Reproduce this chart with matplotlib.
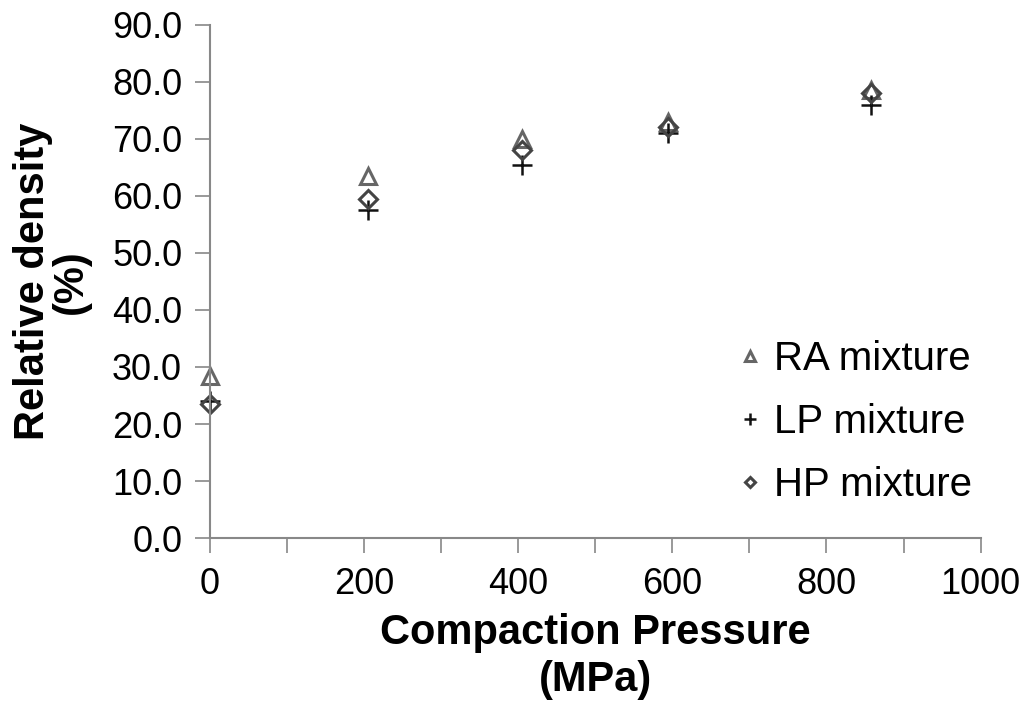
import matplotlib
matplotlib.use("Agg")
import matplotlib.pyplot as plt

plt.rcParams['font.family'] = ['Liberation Sans', 'DejaVu Sans']

pressure = [0, 205, 405, 595, 858]
ra = [28.5, 63.5, 70.0, 73.0, 78.5]
lp = [24.0, 57.5, 65.5, 71.0, 76.0]
hp = [23.5, 59.5, 68.0, 72.0, 78.0]
series_labels = ["RA mixture", "LP mixture", "HP mixture"]
x_ticks = [0, 200, 400, 600, 800, 1000]
y_ticks = [0, 10, 20, 30, 40, 50, 60, 70, 80, 90]

fig = plt.figure(figsize=(10.29, 7.08), dpi=100)
ax = fig.add_axes([0.204, 0.240, 0.749, 0.725])

ax.plot(pressure, ra, linestyle='none', marker='^', markersize=11, markerfacecolor='none',
        markeredgecolor='#666666', markeredgewidth=2.2, label=series_labels[0], clip_on=False)
ax.plot(pressure, lp, linestyle='none', marker='+', markersize=15, color='#111111',
        markeredgewidth=1.8, label=series_labels[1], clip_on=False)
ax.plot(pressure, hp, linestyle='none', marker='D', markersize=9, markerfacecolor='none',
        markeredgecolor='#444444', markeredgewidth=2.2, label=series_labels[2], clip_on=False)

ax.set_xlim(0, 1000)
ax.set_ylim(0, 90)
ax.set_xticks(x_ticks)
ax.set_xticks(range(0, 1001, 100), minor=True)
ax.set_yticks(y_ticks)
ax.set_xticklabels([str(v) for v in x_ticks])
ax.set_yticklabels([f"{v:.1f}" for v in y_ticks])

for s in ['top', 'right']:
    ax.spines[s].set_visible(False)
for s in ['left', 'bottom']:
    ax.spines[s].set_color('#888888')
    ax.spines[s].set_linewidth(1.5)
ax.tick_params(axis='both', which='both', direction='out', color='#888888', width=1.2)
ax.tick_params(axis='x', which='major', length=11, labelsize=26, pad=10)
ax.tick_params(axis='x', which='minor', length=11)
ax.tick_params(axis='y', which='major', length=11, labelsize=26, pad=9)

ax.set_xlabel("Compaction Pressure\n(MPa)", fontsize=30, fontweight='bold', linespacing=1.2, labelpad=8)
ax.set_ylabel("Relative density\n(%)", fontsize=30, fontweight='bold', linespacing=0.95, labelpad=15)

leg = fig.legend(loc='upper left', bbox_to_anchor=(738 / 1029, 1 - 340 / 708), frameon=False,
                 fontsize=29, markerscale=0.6, handlelength=0.6, handletextpad=0.3,
                 labelspacing=0.62, borderpad=0, borderaxespad=0)

fig.savefig("out.png", dpi=100)
